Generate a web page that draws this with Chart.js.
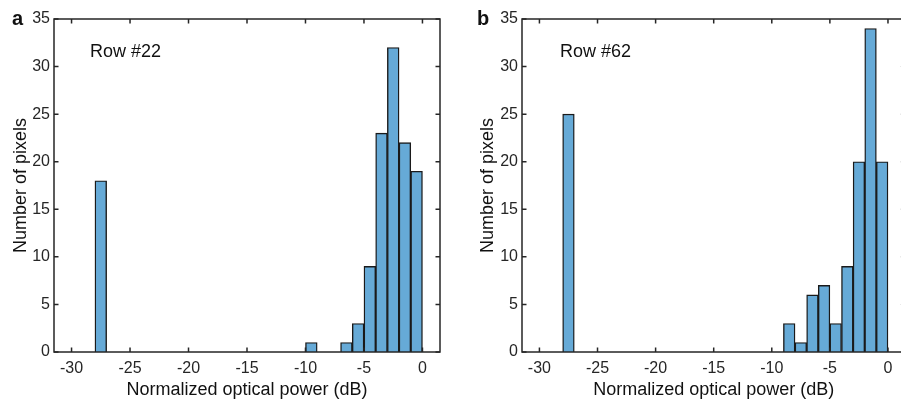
<!DOCTYPE html>
<html>
<head>
<meta charset="utf-8">
<script src="https://cdn.jsdelivr.net/npm/chart.js@4"></script>
<style>
  html, body { margin: 0; padding: 0; background: #fff; }
  body { width: 901px; height: 402px; overflow: hidden; position: relative; }
  canvas { position: absolute; top: 0; }
  #chartA { left: 0; }
  #chartB { left: 450px; }
</style>
</head>
<body>
<canvas id="chartA" width="450" height="402"></canvas>
<canvas id="chartB" width="460" height="402"></canvas>
<script>
/* ---------- data (1 dB bins, given by bin centre) ---------- */
const centersA = [-27.5, -9.5, -6.5, -5.5, -4.5, -3.5, -2.5, -1.5, -0.5];
const countsA  = [18, 1, 1, 3, 9, 23, 32, 22, 19];

const centersB = [-27.5, -8.5, -7.5, -6.5, -5.5, -4.5, -3.5, -2.5, -1.5, -0.5];
const countsB  = [25, 3, 1, 6, 7, 3, 9, 20, 34, 20];

const xTicks = [-30, -25, -20, -15, -10, -5, 0];
const yTicks = [0, 5, 10, 15, 20, 25, 30, 35];

const INK = "#262626";
const FONT = "'Liberation Sans', Arial, sans-serif";

/* ---------- box + inward ticks + panel labels ---------- */
const framePlugin = {
  id: "frame",
  afterDatasetsDraw(chart, args, opts) {
    const { ctx, chartArea: a } = chart;
    const xs = chart.scales.x, ys = chart.scales.y;
    const tl = 4.5;
    ctx.save();
    ctx.strokeStyle = INK;
    ctx.lineWidth = 1.5;
    ctx.strokeRect(a.left, a.top, a.right - a.left, a.bottom - a.top);
    ctx.beginPath();
    xs.ticks.forEach(t => {
      const px = xs.getPixelForValue(t.value);
      ctx.moveTo(px, a.bottom); ctx.lineTo(px, a.bottom - tl);
      ctx.moveTo(px, a.top);    ctx.lineTo(px, a.top + tl);
    });
    ys.ticks.forEach(t => {
      const py = ys.getPixelForValue(t.value);
      ctx.moveTo(a.left, py);  ctx.lineTo(a.left + tl, py);
      ctx.moveTo(a.right, py); ctx.lineTo(a.right - tl, py);
    });
    ctx.stroke();

    // panel letter
    ctx.fillStyle = "#111";
    ctx.textBaseline = "alphabetic";
    ctx.font = "bold 20px " + FONT;
    ctx.fillText(opts.letter, opts.letterX, 25);

    // row label
    ctx.font = "18px " + FONT;
    ctx.textBaseline = "middle";
    ctx.fillText(opts.row, a.left + opts.rowDx, 52);
    ctx.restore();
  }
};

function makeChart(id, centers, counts, pad, yWidth, panel) {
  return new Chart(document.getElementById(id), {
    type: "bar",
    data: {
      datasets: [{
        data: centers.map((c, i) => ({ x: c, y: counts[i] })),
        backgroundColor: "#66aad7",
        borderColor: "#1a1a1a",
        borderWidth: 1.4,
        barPercentage: 1,
        categoryPercentage: 1
      }]
    },
    options: {
      responsive: false,
      animation: false,
      layout: { padding: pad },
      plugins: {
        legend: { display: false },
        tooltip: { enabled: false },
        frame: panel
      },
      scales: {
        x: {
          type: "linear",
          offset: false,
          min: -31.5,
          max: 1.5,
          afterBuildTicks: s => { s.ticks = xTicks.map(v => ({ value: v })); },
          afterFit: s => { s.height = 402 - 352 - pad.bottom; },
          grid: { display: false, drawTicks: false },
          border: { display: false },
          ticks: { color: INK, padding: 7, font: { family: FONT, size: 16 }, maxRotation: 0 },
          title: {
            display: true,
            text: "Normalized optical power (dB)",
            color: "#111",
            font: { family: FONT, size: 18 },
            padding: { top: 0, bottom: 0 }
          }
        },
        y: {
          min: 0,
          max: 35,
          afterBuildTicks: s => { s.ticks = yTicks.map(v => ({ value: v })); },
          afterFit: s => { s.width = yWidth; },
          grid: { display: false, drawTicks: false },
          border: { display: false },
          ticks: { color: INK, padding: 4, font: { family: FONT, size: 16 } },
          title: {
            display: true,
            text: "Number of pixels",
            color: "#111",
            font: { family: FONT, size: 18 },
            padding: { top: 10, bottom: 0 }
          }
        }
      }
    },
    plugins: [framePlugin]
  });
}

makeChart("chartA", centersA, countsA,
  { left: 0, right: 10, top: 19, bottom: 1 }, 54,
  { letter: "a", letterX: 12, row: "Row #22", rowDx: 36 });

makeChart("chartB", centersB, countsB,
  { left: 17, right: 4.6, top: 19, bottom: 1 }, 55,
  { letter: "b", letterX: 27, row: "Row #62", rowDx: 38 });
</script>
</body>
</html>
